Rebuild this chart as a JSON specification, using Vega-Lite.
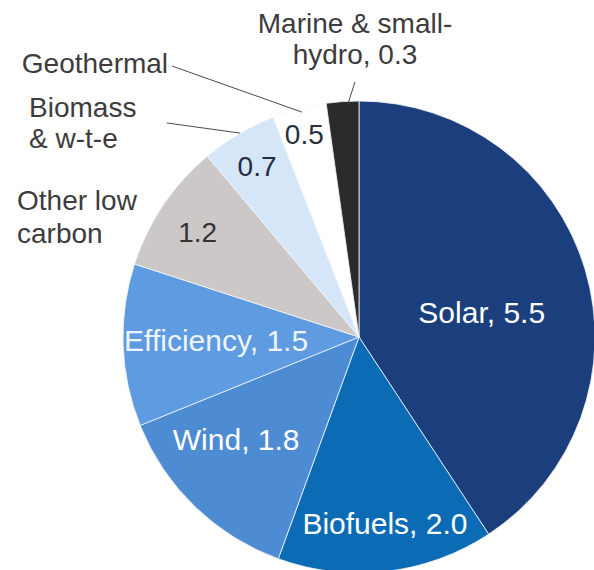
{
  "$schema": "https://vega.github.io/schema/vega-lite/v6.json",
  "width": 472,
  "height": 472,
  "autosize": {"type": "none"},
  "padding": {"left": 123, "top": 101, "right": 0, "bottom": 0},
  "background": "#ffffff",
  "config": {"view": {"stroke": null}, "text": {"font": "Liberation Sans"}},
  "data": {
    "values": [
      {"source": "Solar", "value": 5.5, "rank": 1},
      {"source": "Biofuels", "value": 2.0, "rank": 2},
      {"source": "Wind", "value": 1.8, "rank": 3},
      {"source": "Efficiency", "value": 1.5, "rank": 4},
      {"source": "Other low carbon", "value": 1.2, "rank": 5},
      {"source": "Biomass & w-t-e", "value": 0.7, "rank": 6},
      {"source": "Geothermal", "value": 0.5, "rank": 7},
      {"source": "Marine & small-hydro", "value": 0.3, "rank": 8}
    ]
  },
  "transform": [
    {"calculate": "datum.source + ', ' + format(datum.value, '.1f')", "as": "caption"},
    {"calculate": "format(datum.value, '.1f')", "as": "amount"}
  ],
  "layer": [
    {
      "mark": {"type": "arc", "outerRadius": 236, "stroke": "#f4f6fa", "strokeWidth": 0.8},
      "encoding": {
        "theta": {"field": "value", "type": "quantitative", "stack": true},
        "order": {"field": "rank", "type": "quantitative"},
        "color": {
          "field": "source",
          "type": "nominal",
          "scale": {
            "domain": ["Solar", "Biofuels", "Wind", "Efficiency", "Other low carbon", "Biomass & w-t-e", "Geothermal", "Marine & small-hydro"],
            "range": ["#1b3f7d", "#0b6cb5", "#4d8bd3", "#5f9be0", "#cdc8c8", "#d4e6f7", "#ffffff", "#2b2b2b"]
          },
          "legend": null
        }
      }
    },
    {
      "transform": [{"filter": "datum.rank === 6"}],
      "mark": {"type": "rule", "stroke": "#4a4a4a", "strokeWidth": 1},
      "encoding": {
        "x": {"datum": -0.814, "type": "quantitative", "scale": {"domain": [-1, 1], "nice": false, "zero": false}, "axis": null},
        "y": {"datum": 0.907, "type": "quantitative", "scale": {"domain": [-1, 1], "nice": false, "zero": false}, "axis": null},
        "x2": {"datum": -0.504},
        "y2": {"datum": 0.864}
      }
    },
    {
      "transform": [{"filter": "datum.rank === 7"}],
      "mark": {"type": "rule", "stroke": "#4a4a4a", "strokeWidth": 1},
      "encoding": {
        "x": {"datum": -0.792, "type": "quantitative", "scale": {"domain": [-1, 1], "nice": false, "zero": false}, "axis": null},
        "y": {"datum": 1.148, "type": "quantitative", "scale": {"domain": [-1, 1], "nice": false, "zero": false}, "axis": null},
        "x2": {"datum": -0.242},
        "y2": {"datum": 0.953}
      }
    },
    {
      "transform": [{"filter": "datum.rank === 8"}],
      "mark": {"type": "rule", "stroke": "#4a4a4a", "strokeWidth": 1},
      "encoding": {
        "x": {"datum": -0.017, "type": "quantitative", "scale": {"domain": [-1, 1], "nice": false, "zero": false}, "axis": null},
        "y": {"datum": 1.081, "type": "quantitative", "scale": {"domain": [-1, 1], "nice": false, "zero": false}, "axis": null},
        "x2": {"datum": -0.047},
        "y2": {"datum": 0.987}
      }
    },
    {
      "mark": {"type": "text", "radius": 126, "dx": 2, "dy": 13, "fontSize": 30, "fill": "#ffffff", "baseline": "middle"},
      "encoding": {
        "theta": {"field": "value", "type": "quantitative", "stack": true},
        "detail": {"field": "source", "type": "nominal"},
        "order": {"field": "rank", "type": "quantitative"},
        "text": {"condition": {"test": "datum.rank === 1", "field": "caption", "type": "nominal"}, "value": ""}
      }
    },
    {
      "mark": {"type": "text", "radius": 189, "dx": 4, "fontSize": 30, "fill": "#ffffff", "baseline": "middle"},
      "encoding": {
        "theta": {"field": "value", "type": "quantitative", "stack": true},
        "detail": {"field": "source", "type": "nominal"},
        "order": {"field": "rank", "type": "quantitative"},
        "text": {"condition": {"test": "datum.rank === 2", "field": "caption", "type": "nominal"}, "value": ""}
      }
    },
    {
      "mark": {"type": "text", "radius": 161, "dx": -11, "dy": -12, "fontSize": 30, "fill": "#ffffff", "baseline": "middle"},
      "encoding": {
        "theta": {"field": "value", "type": "quantitative", "stack": true},
        "detail": {"field": "source", "type": "nominal"},
        "order": {"field": "rank", "type": "quantitative"},
        "text": {"condition": {"test": "datum.rank === 3", "field": "caption", "type": "nominal"}, "value": ""}
      }
    },
    {
      "mark": {"type": "text", "radius": 143, "fontSize": 30, "fill": "#eef4fc", "baseline": "middle"},
      "encoding": {
        "theta": {"field": "value", "type": "quantitative", "stack": true},
        "detail": {"field": "source", "type": "nominal"},
        "order": {"field": "rank", "type": "quantitative"},
        "text": {"condition": {"test": "datum.rank === 4", "field": "caption", "type": "nominal"}, "value": ""}
      }
    },
    {
      "mark": {"type": "text", "radius": 191, "dx": -3, "dy": 4, "fontSize": 28, "fill": "#333333", "baseline": "middle"},
      "encoding": {
        "theta": {"field": "value", "type": "quantitative", "stack": true},
        "detail": {"field": "source", "type": "nominal"},
        "order": {"field": "rank", "type": "quantitative"},
        "text": {"condition": {"test": "datum.rank === 5", "field": "amount", "type": "nominal"}, "value": ""}
      }
    },
    {
      "mark": {"type": "text", "radius": 196, "dx": -2, "fontSize": 28, "fill": "#1f2d45", "baseline": "middle"},
      "encoding": {
        "theta": {"field": "value", "type": "quantitative", "stack": true},
        "detail": {"field": "source", "type": "nominal"},
        "order": {"field": "rank", "type": "quantitative"},
        "text": {"condition": {"test": "datum.rank === 6", "field": "amount", "type": "nominal"}, "value": ""}
      }
    },
    {
      "mark": {"type": "text", "radius": 208, "dx": -2, "fontSize": 28, "fill": "#27303c", "baseline": "middle"},
      "encoding": {
        "theta": {"field": "value", "type": "quantitative", "stack": true},
        "detail": {"field": "source", "type": "nominal"},
        "order": {"field": "rank", "type": "quantitative"},
        "text": {"condition": {"test": "datum.rank === 7", "field": "amount", "type": "nominal"}, "value": ""}
      }
    },
    {
      "transform": [{"filter": "datum.rank === 5"}],
      "mark": {"type": "text", "align": "left", "baseline": "alphabetic", "fontSize": 28, "fill": "#3c3c3c", "lineBreak": "\n", "lineHeight": 33},
      "encoding": {
        "x": {"datum": -1.449, "type": "quantitative", "scale": {"domain": [-1, 1], "nice": false, "zero": false}, "axis": null},
        "y": {"datum": 0.538, "type": "quantitative", "scale": {"domain": [-1, 1], "nice": false, "zero": false}, "axis": null},
        "text": {"value": "Other low\ncarbon"}
      }
    },
    {
      "transform": [{"filter": "datum.rank === 6"}],
      "mark": {"type": "text", "align": "left", "baseline": "alphabetic", "fontSize": 28, "fill": "#3c3c3c", "lineBreak": "\n", "lineHeight": 31},
      "encoding": {
        "x": {"datum": -1.398, "type": "quantitative", "scale": {"domain": [-1, 1], "nice": false, "zero": false}, "axis": null},
        "y": {"datum": 0.932, "type": "quantitative", "scale": {"domain": [-1, 1], "nice": false, "zero": false}, "axis": null},
        "text": {"value": "Biomass\n& w-t-e"}
      }
    },
    {
      "transform": [{"filter": "datum.rank === 7"}],
      "mark": {"type": "text", "align": "right", "baseline": "alphabetic", "fontSize": 28, "fill": "#3c3c3c"},
      "encoding": {
        "x": {"datum": -0.809, "type": "quantitative", "scale": {"domain": [-1, 1], "nice": false, "zero": false}, "axis": null},
        "y": {"datum": 1.119, "type": "quantitative", "scale": {"domain": [-1, 1], "nice": false, "zero": false}, "axis": null},
        "text": {"field": "source", "type": "nominal"}
      }
    },
    {
      "transform": [
        {"filter": "datum.rank === 8"},
        {"calculate": "'Marine & small-|hydro, ' + format(datum.value, '.1f')", "as": "note"}
      ],
      "mark": {"type": "text", "align": "center", "baseline": "alphabetic", "fontSize": 28, "fill": "#3c3c3c", "lineBreak": "|", "lineHeight": 31},
      "encoding": {
        "x": {"datum": -0.017, "type": "quantitative", "scale": {"domain": [-1, 1], "nice": false, "zero": false}, "axis": null},
        "y": {"datum": 1.288, "type": "quantitative", "scale": {"domain": [-1, 1], "nice": false, "zero": false}, "axis": null},
        "text": {"field": "note", "type": "nominal"}
      }
    }
  ]
}
